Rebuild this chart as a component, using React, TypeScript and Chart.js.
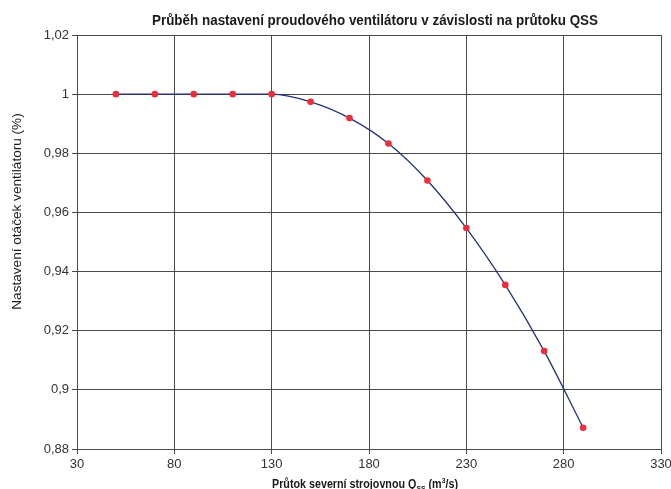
import React, { useEffect, useRef } from 'react';
import { Chart, registerables } from 'chart.js';

Chart.register(...registerables);

// Data
const flowValues = [50, 70, 90, 110, 130, 150, 170, 190, 210, 230, 250, 270, 290];
const speedValues = [1, 1, 1, 1, 1, 0.9974, 0.9919, 0.9833, 0.9708, 0.9547, 0.9355, 0.9131, 0.8872];
const xTickValues = [30, 80, 130, 180, 230, 280, 330];
const yTickValues = [0.88, 0.9, 0.92, 0.94, 0.96, 0.98, 1, 1.02];

// Texts
const chartTitle = 'Průběh nastavení proudového ventilátoru v závislosti na průtoku QSS';
const yAxisTitle = 'Nastavení otáček ventilátoru (%)';
const xTitleMain = 'Průtok severní strojovnou Q';
const xTitleSub = 'SS';
const xTitleUnitPre = ' (m';
const xTitleSup = '3';
const xTitleUnitPost = '/s)';

const FONT = '"Liberation Sans", Arial, sans-serif';

const titlesPlugin = {
  id: 'customTitles',
  afterDraw(chart: any) {
    const ctx = chart.ctx as CanvasRenderingContext2D;
    ctx.save();
    ctx.fillStyle = '#1a1a1a';
    // main title (slightly condensed to match reference width)
    ctx.font = `bold 14.5px ${FONT}`;
    ctx.textAlign = 'left';
    ctx.textBaseline = 'alphabetic';
    const tw = ctx.measureText(chartTitle).width;
    const targetTitleW = 446;
    const sT = Math.min(1, targetTitleW / tw);
    ctx.save();
    ctx.translate(375 - (tw * sT) / 2, 25);
    ctx.scale(sT, 1);
    ctx.fillText(chartTitle, 0, 0);
    ctx.restore();

    // y title
    ctx.save();
    ctx.translate(17, 211.5);
    ctx.rotate(-Math.PI / 2);
    ctx.font = `13.6px ${FONT}`;
    ctx.textAlign = 'center';
    ctx.textBaseline = 'middle';
    ctx.fillText(yAxisTitle, 0, 0);
    ctx.restore();

    // x title with sub/superscripts
    const mainFont = `bold 12.5px ${FONT}`;
    const smallFont = `bold 8px ${FONT}`;
    ctx.textAlign = 'left';
    ctx.font = mainFont;
    const w1 = ctx.measureText(xTitleMain).width;
    const w3 = ctx.measureText(xTitleUnitPre).width;
    const w5 = ctx.measureText(xTitleUnitPost).width;
    ctx.font = smallFont;
    const w2 = ctx.measureText(xTitleSub).width;
    const w4 = ctx.measureText(xTitleSup).width;
    const total = w1 + w2 + w3 + w4 + w5;
    const sX = Math.min(1, 186 / total);
    ctx.save();
    ctx.translate(365 - (total * sX) / 2, 488);
    ctx.scale(sX, 1);
    let x = 0;
    ctx.font = mainFont;
    ctx.fillText(xTitleMain, x, 0);
    x += w1;
    ctx.font = smallFont;
    ctx.fillText(xTitleSub, x, 3);
    x += w2;
    ctx.font = mainFont;
    ctx.fillText(xTitleUnitPre, x, 0);
    x += w3;
    ctx.font = smallFont;
    ctx.fillText(xTitleSup, x, -5);
    x += w4;
    ctx.font = mainFont;
    ctx.fillText(xTitleUnitPost, x, 0);
    ctx.restore();
    ctx.restore();
  },
};

const fmt = (v: number) => Number(v.toFixed(2)).toString().replace('.', ',');

export default function App() {
  const canvasRef = useRef<HTMLCanvasElement | null>(null);

  useEffect(() => {
    document.body.style.margin = '0';
    const canvas = canvasRef.current;
    if (!canvas) return;
    const chart = new Chart(canvas, {
      type: 'line',
      data: {
        datasets: [
          {
            data: flowValues.map((x, i) => ({ x, y: speedValues[i] })),
            borderColor: '#22307a',
            borderWidth: 1.3,
            backgroundColor: '#ec2e3a',
            pointBackgroundColor: '#ec2e3a',
            pointBorderColor: '#ec2e3a',
            pointBorderWidth: 0,
            pointRadius: 3.3,
            cubicInterpolationMode: 'monotone',
            fill: false,
          },
        ],
      },
      options: {
        animation: false,
        responsive: false,
        devicePixelRatio: 1,
        layout: { padding: { top: 35, right: 10, bottom: 0, left: 0 } },
        plugins: {
          legend: { display: false },
          title: { display: false },
          tooltip: { enabled: false },
        },
        scales: {
          x: {
            type: 'linear',
            min: 30,
            max: 330,
            afterBuildTicks: (scale: any) => {
              scale.ticks = xTickValues.map((v) => ({ value: v }));
            },
            afterFit: (scale: any) => {
              scale.height = 40;
              scale.paddingLeft = 0;
              scale.paddingRight = 0;
            },
            grid: {
              color: '#4a4a4a',
              lineWidth: 1,
              drawTicks: true,
              tickLength: 5,
              tickColor: '#4a4a4a',
            },
            border: { display: true, color: '#4a4a4a', width: 1 },
            ticks: {
              autoSkip: false,
              maxRotation: 0,
              padding: 3,
              color: '#333',
              font: { family: FONT, size: 13 },
              callback: (v: any) => String(v),
            },
          },
          y: {
            type: 'linear',
            min: 0.88,
            max: 1.02,
            afterBuildTicks: (scale: any) => {
              scale.ticks = yTickValues.map((v) => ({ value: v }));
            },
            afterFit: (scale: any) => {
              scale.width = 77;
              scale.paddingTop = 0;
              scale.paddingBottom = 0;
            },
            grid: {
              color: '#4a4a4a',
              lineWidth: 1,
              drawTicks: true,
              tickLength: 5,
              tickColor: '#4a4a4a',
            },
            border: { display: true, color: '#4a4a4a', width: 1 },
            ticks: {
              autoSkip: false,
              padding: 3,
              color: '#333',
              font: { family: FONT, size: 13 },
              callback: (v: any) => fmt(Number(v)),
            },
          },
        },
      },
      plugins: [titlesPlugin],
    });
    return () => chart.destroy();
  }, []);

  return (
    <div style={{ width: 671, height: 489, background: '#fff' }}>
      <canvas ref={canvasRef} width={671} height={489} style={{ display: 'block' }} />
    </div>
  );
}
